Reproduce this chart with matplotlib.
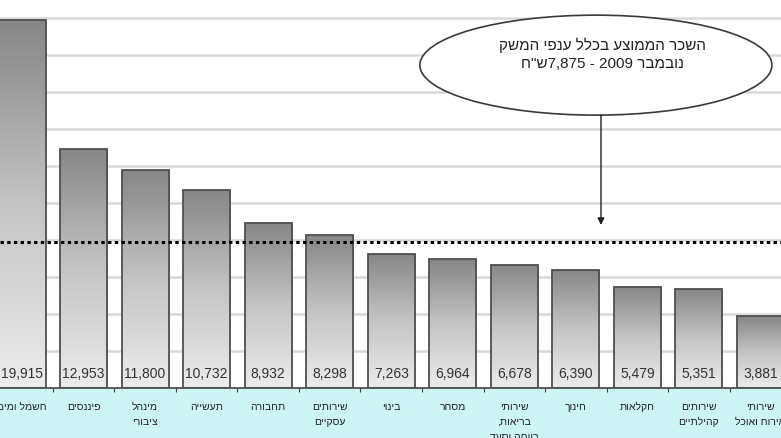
import re
import matplotlib
matplotlib.use('Agg')
import matplotlib.pyplot as plt
import numpy as np
from matplotlib.patches import Ellipse
from matplotlib.colors import LinearSegmentedColormap

plt.rcParams['font.family'] = ['Liberation Sans', 'DejaVu Sans']

# ---- data ----
categories = [
    "חשמל ומים",
    "פיננסים",
    "מינהל\nציבורי",
    "תעשייה",
    "תחבורה",
    "שירותים\nעסקיים",
    "בינוי",
    "מסחר",
    "שירותי\nבריאות,\nרווחה וסעד",
    "חינוך",
    "חקלאות",
    "שירותים\nקהילתיים",
    "שירותי\nאירוח ואוכל",
]
values = [19915, 12953, 11800, 10732, 8932, 8298, 7263, 6964, 6678, 6390, 5479, 5351, 3881]
value_labels = ["19,915", "12,953", "11,800", "10,732", "8,932", "8,298", "7,263",
                "6,964", "6,678", "6,390", "5,479", "5,351", "3,881"]
average = 7875
note_lines = ["השכר הממוצע בכלל ענפי המשק", 'נובמבר 2009 - 7,875ש"ח']

_num_run = re.compile(r'[0-9][0-9.,]*[0-9]|[0-9]')


def vis(s):
    """Right-to-left visual order: reverse the line, keep number runs left-to-right."""
    r = s[::-1]
    return _num_run.sub(lambda m: m.group(0)[::-1], r)


fig = plt.figure(figsize=(7.81, 4.39), dpi=100, facecolor='#cdf4f5')
ax = fig.add_axes([0, 50 / 439, 1, 389 / 439])
ax.set_facecolor('white')

x = np.arange(len(values))
bars = ax.bar(x, values, width=0.764, color='none', edgecolor='#4f4f4f',
              linewidth=1.3, zorder=3)
grad = np.linspace(0, 1, 256).reshape(-1, 1)
cmap = LinearSegmentedColormap.from_list('g', ['#ececec', '#c4c4c4', '#868686'])
for b in bars:
    x0, w, h = b.get_x(), b.get_width(), b.get_height()
    im = ax.imshow(grad, extent=[x0, x0 + w, 0, h], origin='lower',
                   aspect='auto', cmap=cmap, zorder=2, interpolation='bilinear')
    im.set_clip_path(b)

ax.set_yticks(np.arange(2000, 20001, 2000))
ax.yaxis.grid(True, color='#d9d9d9', lw=1.8)
ax.set_axisbelow(True)
ax.tick_params(axis='y', length=0, labelleft=False)
ax.set_xticks(np.arange(-0.5, len(values), 1))
ax.tick_params(axis='x', direction='out', length=3, color='#404040',
               labelbottom=False)
ax.set_xlim(-0.3575, 12.333)
ax.set_ylim(0, 21052)
for s in ['top', 'left', 'right']:
    ax.spines[s].set_visible(False)
ax.spines['bottom'].set_color('#404040')
ax.spines['bottom'].set_linewidth(1.2)

for i, lab in enumerate(value_labels):
    ax.annotate(lab, (x[i], 0), xytext=(0, 14.5), textcoords='offset pixels',
                ha='center', va='center', fontsize=10, color='#333333', zorder=5)

for i, cat in enumerate(categories):
    for j, line in enumerate(cat.split('\n')):
        ax.annotate(vis(line), (x[i], 0), xytext=(0, -17.7 - 15 * j),
                    textcoords='offset pixels', ha='center', va='center',
                    fontsize=7.5, color='#222222', annotation_clip=False)

ax.axhline(average, color='black', lw=2.2, ls=(0, (1.1, 1.1)), zorder=6)

ell = Ellipse((0.763, 0.830), 0.4507, 0.257, transform=ax.transAxes,
              fc='white', ec='#3a3a3a', lw=1.2, zorder=7, clip_on=False)
ax.add_patch(ell)
ax.text(0.772, 0.884, vis(note_lines[0]), transform=ax.transAxes, ha='center',
        va='center', fontsize=11, color='#222222', zorder=8)
ax.text(0.772, 0.835, vis(note_lines[1]), transform=ax.transAxes, ha='center',
        va='center', fontsize=11, color='#222222', zorder=8)
ax.annotate('', xy=(0.7695, 0.419), xytext=(0.7695, 0.702),
            xycoords='axes fraction',
            arrowprops=dict(arrowstyle='-|>', color='#222222', lw=1,
                            mutation_scale=10, shrinkA=0, shrinkB=0),
            zorder=7)

fig.savefig('out.png', dpi=100, facecolor=fig.get_facecolor())
